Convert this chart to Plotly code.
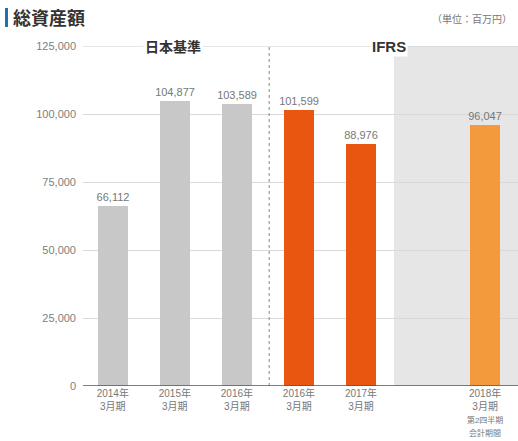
import plotly.graph_objects as go

categories = ["2014年<br>3月期", "2015年<br>3月期", "2016年<br>3月期", "2016年<br>3月期", "2017年<br>3月期",
              "2018年<br>3月期<br><span style='font-size:8px'>第2四半期<br>会計期間</span>"]
positions = [0, 1, 2, 3, 4, 6]
values = [66112, 104877, 103589, 101599, 88976, 96047]
colors = ["#c8c8c8", "#c8c8c8", "#c8c8c8", "#e8560f", "#e8560f", "#f29a3c"]
y_ticks = [0, 25000, 50000, 75000, 100000, 125000]

W, H = 518, 441
L, R, T, B = 83, 0, 46, 55
pw = W - L - R
ph = H - T - B

def px(p):
    return (p - L) / pw

def py(p):
    return (H - B - p) / ph

fig = go.Figure()
fig.add_trace(go.Bar(
    x=positions, y=values, marker=dict(color=colors, line=dict(width=0)),
    width=0.48,
    text=[f"{v:,}" for v in values], textposition="outside", constraintext="none",
    textfont=dict(color="#777777", size=11, family="Liberation Sans, Arial"),
    cliponaxis=False, showlegend=False,
))

fig.update_layout(
    width=W, height=H,
    margin=dict(l=L, r=R, t=T, b=B),
    paper_bgcolor="white", plot_bgcolor="white",
    font=dict(family="Liberation Sans, Noto Sans CJK JP, Arial", color="#666666"),
    xaxis=dict(range=[-0.48, 6.53], tickvals=positions, ticktext=categories,
               tickfont=dict(size=10, color="#777777"), showgrid=False,
               zeroline=False, showline=False, ticks=""),
    yaxis=dict(range=[0, 125000], tickvals=y_ticks,
               ticktext=[f"{v:,}" for v in y_ticks],
               tickfont=dict(size=11, color="#808080"),
               showgrid=True, gridcolor="#d9d9d9", gridwidth=1,
               zeroline=False, showline=False, ticks="", ticklabelstandoff=6),
    bargap=0,
)

shapes = [
    # shaded IFRS interim region
    dict(type="rect", xref="x", yref="y", x0=4.53, x1=6.53, y0=0, y1=125000,
         fillcolor="#e6e6e6", line=dict(width=0), layer="below"),
    # top gridline
    dict(type="line", xref="paper", yref="y", x0=0, x1=1, y0=125000, y1=125000,
         line=dict(color="#d0d0d0", width=1)),
    # divider
    dict(type="line", xref="x", yref="y", x0=2.52, x1=2.52, y0=0, y1=125000,
         line=dict(color="#888888", width=1, dash="dot")),
    # baseline
    dict(type="line", xref="paper", yref="y", x0=0, x1=1, y0=0, y1=0,
         line=dict(color="#555555", width=1.5)),
    # title accent bar
    dict(type="rect", xref="paper", yref="paper", x0=px(5), x1=px(8), y0=py(27), y1=py(8),
         fillcolor="#1f6fb5", line=dict(width=0)),
]
fig.update_layout(shapes=shapes)

fig.add_annotation(xref="paper", yref="paper", x=px(11), y=py(17), xanchor="left", yanchor="middle",
                   text="<b>総資産額</b>", showarrow=False,
                   font=dict(size=18, color="#333333", family="Noto Sans CJK JP"))
fig.add_annotation(xref="paper", yref="paper", x=px(514), y=py(18), xanchor="right", yanchor="middle",
                   text="（単位：百万円）", showarrow=False,
                   font=dict(size=10, color="#777777", family="Noto Sans CJK JP"))
fig.add_annotation(xref="x", yref="y", x=0.97, y=125000, text="<b>日本基準</b>", showarrow=False,
                   bgcolor="white", borderpad=1, yanchor="middle",
                   font=dict(size=14, color="#333333", family="Noto Sans CJK JP"))
fig.add_annotation(xref="x", yref="y", x=4.45, y=125000, text="<b>IFRS</b>", showarrow=False,
                   bgcolor="white", borderpad=1, yanchor="middle",
                   font=dict(size=15, color="#333333", family="Liberation Sans"))

fig.write_html("out.html")
